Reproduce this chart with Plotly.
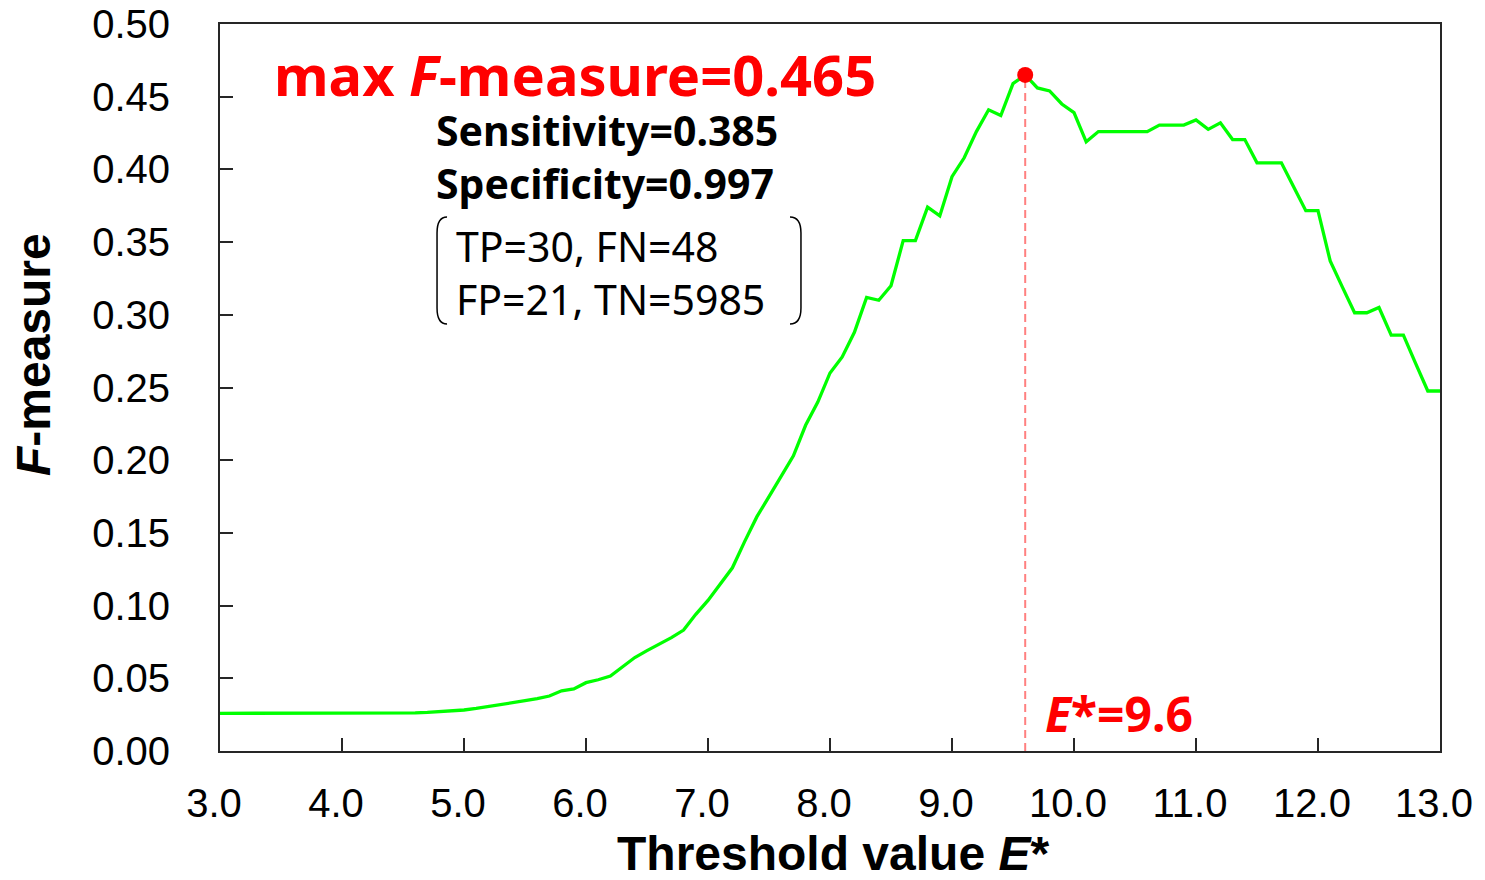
import plotly.graph_objects as go

# ---------------- data ----------------
thresholds = [
    3.0, 3.1, 3.2, 3.3, 3.4, 3.5, 3.6, 3.7, 3.8, 3.9,
    4.0, 4.1, 4.2, 4.3, 4.4, 4.5, 4.6, 4.7, 4.8, 4.9,
    5.0, 5.1, 5.2, 5.3, 5.4, 5.5, 5.6, 5.7, 5.8, 5.9,
    6.0, 6.1, 6.2, 6.3, 6.4, 6.5, 6.6, 6.7, 6.8, 6.9,
    7.0, 7.1, 7.2, 7.3, 7.4, 7.5, 7.6, 7.7, 7.8, 7.9,
    8.0, 8.1, 8.2, 8.3, 8.4, 8.5, 8.6, 8.7, 8.8, 8.9,
    9.0, 9.1, 9.2, 9.3, 9.4, 9.5, 9.6, 9.7, 9.8, 9.9,
    10.0, 10.1, 10.2, 10.3, 10.4, 10.5, 10.6, 10.7, 10.8, 10.9,
    11.0, 11.1, 11.2, 11.3, 11.4, 11.5, 11.6, 11.7, 11.8, 11.9,
    12.0, 12.1, 12.2, 12.3, 12.4, 12.5, 12.6, 12.7, 12.8, 12.9,
    13.0,
]

f_measure = [
    0.0259, 0.0259, 0.0259, 0.0259, 0.0259, 0.0259, 0.0259, 0.0259, 0.0259, 0.0259,
    0.0259, 0.0259, 0.0259, 0.0259, 0.0259, 0.0260, 0.0262, 0.0265, 0.0270, 0.0275,
    0.0282, 0.0293, 0.0305, 0.0322, 0.0333, 0.0346, 0.0360, 0.0378, 0.0414, 0.0427,
    0.0470, 0.0490, 0.0516, 0.0580, 0.0643, 0.0690, 0.0733, 0.0780, 0.0832, 0.0940,
    0.1036, 0.1150, 0.1260, 0.1440, 0.1610, 0.1750, 0.1886, 0.2030, 0.2240, 0.2400,
    0.2600, 0.2710, 0.2880, 0.3120, 0.3100, 0.3200, 0.3510, 0.3510, 0.3740, 0.3680,
    0.3950, 0.4080, 0.4260, 0.4410, 0.4370, 0.4590, 0.4650, 0.4560, 0.4540, 0.4450,
    0.4390, 0.4190, 0.4260, 0.4260, 0.4260, 0.4260, 0.4260, 0.4305, 0.4305, 0.4305,
    0.4340, 0.4275, 0.4320, 0.4205, 0.4205, 0.4045, 0.4045, 0.4045, 0.3880, 0.3716,
    0.3716, 0.3370, 0.3190, 0.3014, 0.3014, 0.3050, 0.2860, 0.2860, 0.2666, 0.2476,
    0.2476,
]
assert len(thresholds) == len(f_measure)

E_star = 9.6
F_max = 0.465
sensitivity = 0.385
specificity = 0.997
TP, FN, FP, TN = 30, 48, 21, 5985

x_ticks = [3.0, 4.0, 5.0, 6.0, 7.0, 8.0, 9.0, 10.0, 11.0, 12.0, 13.0]
y_ticks = [0.00, 0.05, 0.10, 0.15, 0.20, 0.25, 0.30, 0.35, 0.40, 0.45, 0.50]

# ---------------- figure ----------------
AX = "#262626"
TICKFONT = dict(family="Liberation Sans, Arial, sans-serif", size=40, color="black")
TXTFONT = "Noto Sans, DejaVu Sans, sans-serif"

fig = go.Figure()
fig.add_trace(go.Scatter(
    x=[E_star, E_star], y=[0, F_max], mode="lines",
    line=dict(color="#FF8080", width=2, dash="8px,5px"),
    hoverinfo="skip", showlegend=False,
))
fig.add_trace(go.Scatter(
    x=thresholds, y=f_measure, mode="lines",
    line=dict(color="#00FF00", width=3.3),
    showlegend=False,
))
fig.add_trace(go.Scatter(
    x=[E_star], y=[F_max], mode="markers",
    marker=dict(color="#FF0000", size=16),
    showlegend=False,
))

fig.update_xaxes(
    range=[3, 13], tickvals=x_ticks, ticktext=[f"{v:.1f}" for v in x_ticks],
    ticks="inside", ticklen=13, tickwidth=2, tickcolor=AX,
    showline=True, linecolor=AX, linewidth=2, mirror=True,
    showgrid=False, zeroline=False, tickfont=TICKFONT, ticklabelstandoff=16,
    ticklabelshift=-6, automargin=False,
)
fig.update_yaxes(
    range=[0, 0.5], tickvals=y_ticks, ticktext=[f"{v:.2f}" for v in y_ticks],
    ticks="inside", ticklen=13, tickwidth=2, tickcolor=AX,
    showline=True, linecolor=AX, linewidth=2, mirror=True,
    showgrid=False, zeroline=False, tickfont=TICKFONT, ticklabelstandoff=40,
    automargin=False,
)

annotations = [
    dict(text=f"<b>max <i>F</i>-measure={F_max:.3f}</b>", x=0.0426, y=0.931,
         font=dict(family=TXTFONT, size=56, color="#FF0000")),
    dict(text=(f"<b>Sensitivity={sensitivity:.3f}</b><br>"
               f"<b>Specificity={specificity:.3f}</b>"), x=0.1755, y=0.8175,
         font=dict(family=TXTFONT, size=41, color="black")),
    dict(text=f"TP={TP}, FN={FN}<br>FP={FP}, TN={TN}", x=0.1920, y=0.6575,
         font=dict(family=TXTFONT, size=41, color="black")),
    dict(text=f"<b><i>E</i>*={E_star}</b>", x=0.6745, y=0.0509,
         font=dict(family=TXTFONT, size=48, color="#FF0000")),
]
for a in annotations:
    fig.add_annotation(xref="paper", yref="paper", xanchor="left", yanchor="middle",
                       align="left", showarrow=False, **a)

# axis titles
fig.add_annotation(text="<b><i>F</i>-measure</b>", xref="paper", yref="paper",
                   x=-0.1533, y=0.546, xanchor="center", yanchor="middle",
                   textangle=-90, showarrow=False,
                   font=dict(family="Liberation Sans, Arial, sans-serif", size=48, color="black"))
fig.add_annotation(text="<b>Threshold value <i>E</i>*</b>", xref="paper", yref="paper",
                   x=0.5025, y=-0.141, xanchor="center", yanchor="middle",
                   showarrow=False,
                   font=dict(family="Liberation Sans, Arial, sans-serif", size=48, color="black"))

# brackets around the confusion-matrix counts
def bracket(x_tip, x_edge, y_top, y_bot, r):
    return (f"M {x_tip},{y_top} Q {x_edge},{y_top} {x_edge},{y_top - r} "
            f"L {x_edge},{y_bot + r} Q {x_edge},{y_bot} {x_tip},{y_bot}")

yt, yb, ry = 0.7345, 0.5873, 0.022
fig.add_shape(type="path", xref="paper", yref="paper",
              path=bracket(0.1861, 0.1779, yt, yb, ry),
              line=dict(color="black", width=1.5))
fig.add_shape(type="path", xref="paper", yref="paper",
              path=bracket(0.4672, 0.4762, yt, yb, ry),
              line=dict(color="black", width=1.5))

fig.update_layout(
    width=1485, height=880,
    margin=dict(l=220, r=45, t=24, b=129),
    plot_bgcolor="white", paper_bgcolor="white",
    showlegend=False,
)

fig.write_html("out.html", config={"displayModeBar": False},
               post_script="document.body.style.margin='0';document.body.style.overflow='hidden';")
